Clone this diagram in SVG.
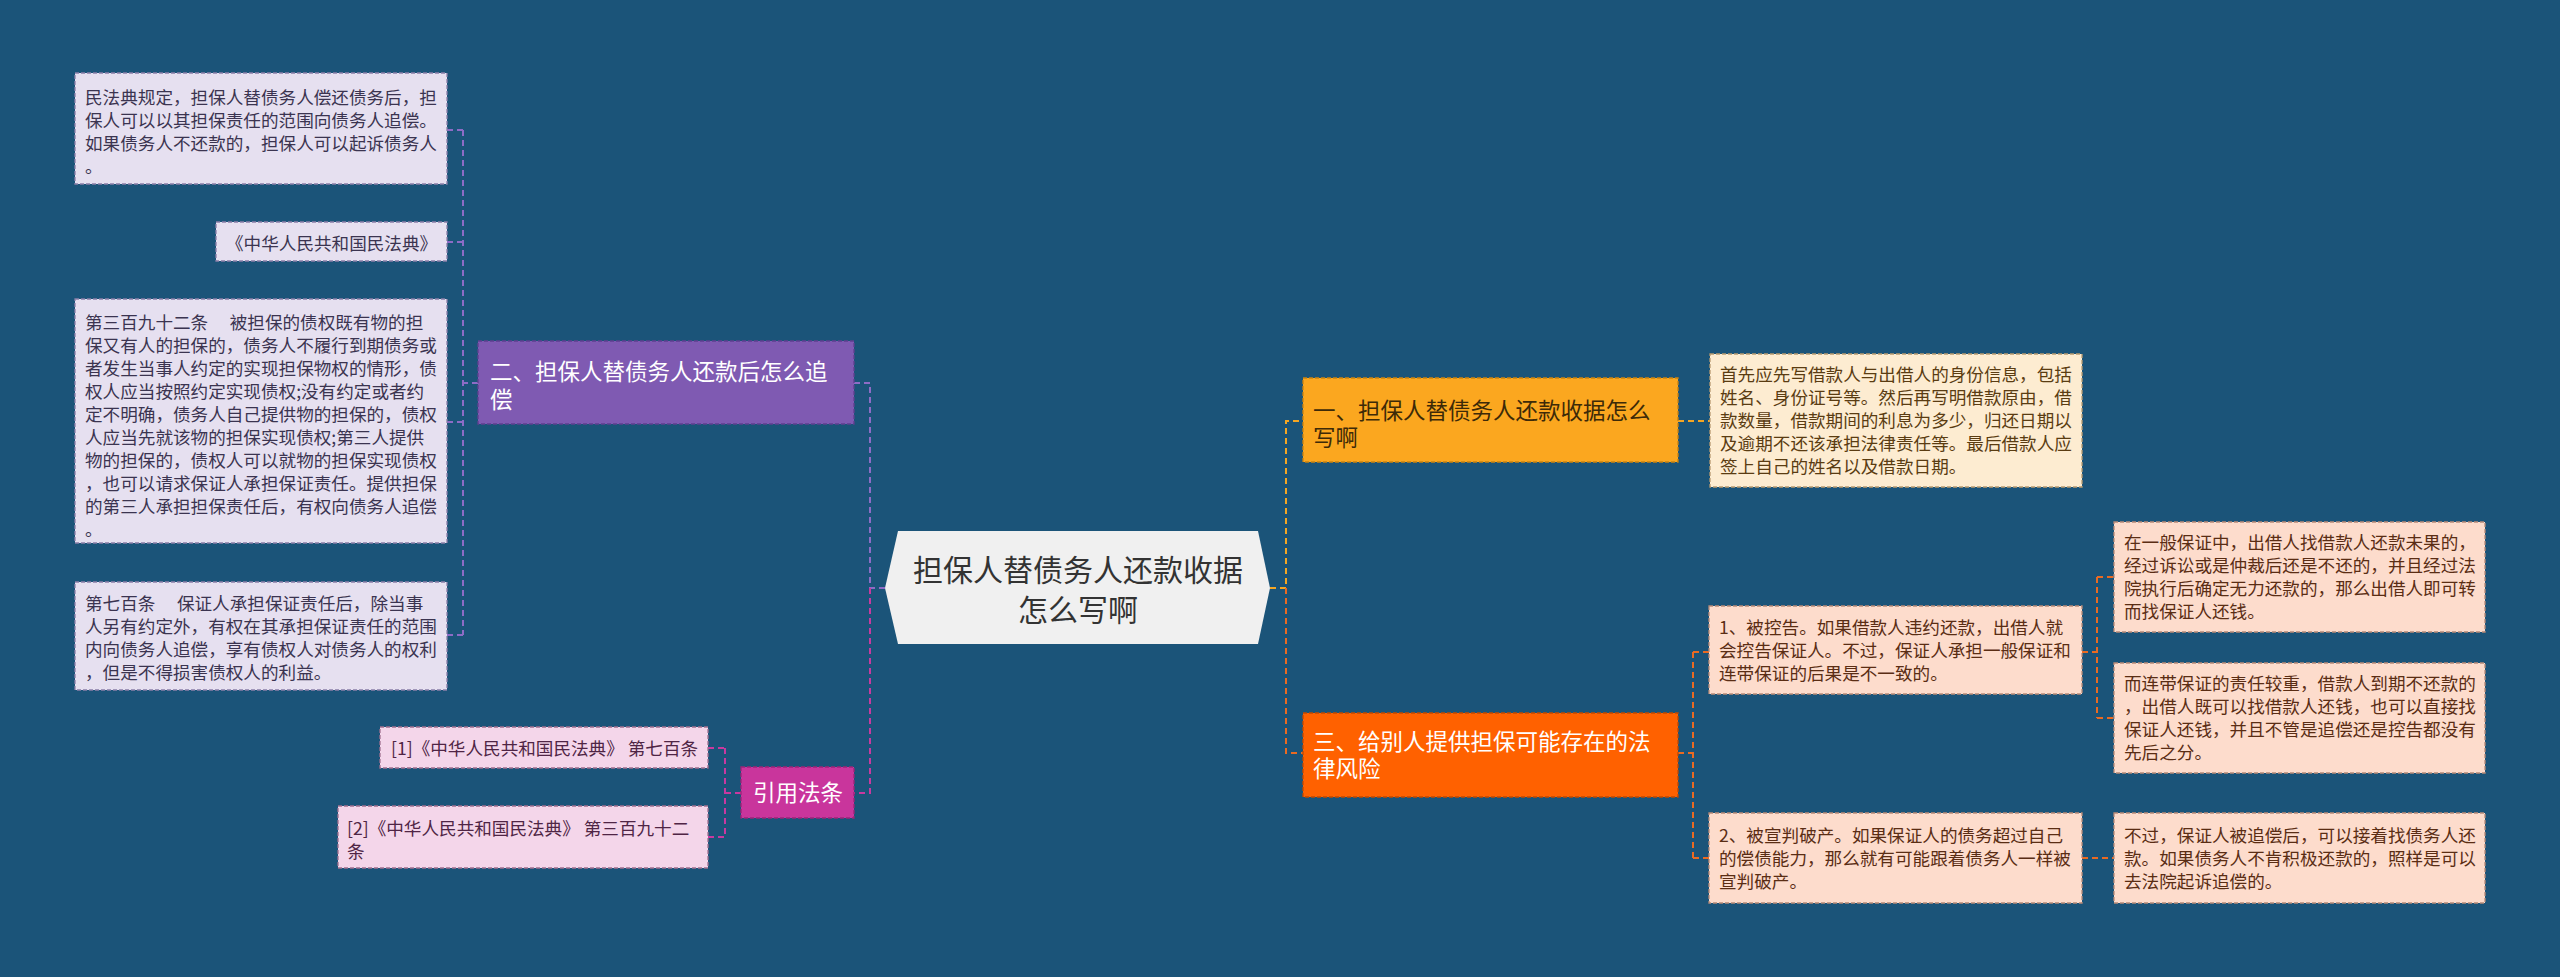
<svg xmlns="http://www.w3.org/2000/svg" width="2560" height="977" viewBox="0 0 2560 977">
<style>
text{font-family:"Noto Sans CJK SC","Noto Sans",sans-serif;}
.s{font-size:17.6px;}
.m{font-size:22.5px;}
.c{stroke-width:2;fill:none;stroke-dasharray:6 4;}
.cp{stroke:#8d6cc6;}
.cm{stroke:#c8399f;}
.cy{stroke:#f5a623;}
.co{stroke:#ea6a22;}
.b{stroke-width:1.3;stroke-dasharray:4 2;}
</style>
<rect width="2560" height="977" fill="#1b5479"/>
<g id="connectors">
<path class="c cp" d="M885 588H870V383H854M478 383H463M463 130V635M447 130H463M447 242H463M447 422H463M447 635H463"/>
<path class="c cm" d="M870 588V793H854M741 793H725M725 748V837M708 748H725M708 837H725"/>
<path class="c cy" d="M1270 588H1286V421H1303M1678 421H1710"/>
<path class="c co" d="M1286 588V753H1303M1678 753H1693M1693 652V858M1693 652H1709M1693 858H1709M2082 652H2097M2097 577V718M2097 577H2114M2097 718H2114M2082 858H2114"/>
</g>
<g id="center">
<polygon points="885,588 898,531 1258,531 1270,588 1258,644 898,644" fill="#f0f0f0"/>
<text x="1078" y="581" font-size="30" fill="#333" text-anchor="middle">担保人替债务人还款收据</text>
<text x="1078" y="621" font-size="30" fill="#333" text-anchor="middle">怎么写啊</text>
</g>
<g id="n2">
<rect class="b" x="478" y="341" width="376" height="83" fill="#7f5ab2" stroke="#5f3f90"/>
<text class="m" fill="#fff"><tspan x="490" y="379.5">二、担保人替债务人还款后怎么追</tspan><tspan x="490" y="407.5">偿</tspan></text>
</g>
<g id="n2a">
<rect class="b" x="75" y="73" width="372" height="111" fill="#e6e0f0" stroke="#8a7fa8"/>
<text class="s" fill="#3b3450"><tspan x="85" y="103.5">民法典规定，担保人替债务人偿还债务后，担</tspan><tspan x="85" y="126.5">保人可以以其担保责任的范围向债务人追偿。</tspan><tspan x="85" y="149.5">如果债务人不还款的，担保人可以起诉债务人</tspan><tspan x="85" y="172.5">。</tspan></text>
</g>
<g id="n2b">
<rect class="b" x="216" y="222" width="231" height="39" fill="#e6e0f0" stroke="#8a7fa8"/>
<text class="s" fill="#3b3450" x="226" y="249.5">《中华人民共和国民法典》</text>
</g>
<g id="n2c">
<rect class="b" x="75" y="299" width="372" height="244" fill="#e6e0f0" stroke="#8a7fa8"/>
<text class="s" fill="#3b3450"><tspan x="85" y="328.5">第三百九十二条　 被担保的债权既有物的担</tspan><tspan x="85" y="351.6">保又有人的担保的，债务人不履行到期债务或</tspan><tspan x="85" y="374.7">者发生当事人约定的实现担保物权的情形，债</tspan><tspan x="85" y="397.8">权人应当按照约定实现债权;没有约定或者约</tspan><tspan x="85" y="420.9">定不明确，债务人自己提供物的担保的，债权</tspan><tspan x="85" y="444">人应当先就该物的担保实现债权;第三人提供</tspan><tspan x="85" y="467.1">物的担保的，债权人可以就物的担保实现债权</tspan><tspan x="85" y="490.2">，也可以请求保证人承担保证责任。提供担保</tspan><tspan x="85" y="513.3">的第三人承担担保责任后，有权向债务人追偿</tspan><tspan x="85" y="536.4">。</tspan></text>
</g>
<g id="n2d">
<rect class="b" x="75" y="582" width="372" height="108" fill="#e6e0f0" stroke="#8a7fa8"/>
<text class="s" fill="#3b3450"><tspan x="85" y="609.5">第七百条　 保证人承担保证责任后，除当事</tspan><tspan x="85" y="632.5">人另有约定外，有权在其承担保证责任的范围</tspan><tspan x="85" y="655.5">内向债务人追偿，享有债权人对债务人的权利</tspan><tspan x="85" y="678.5">，但是不得损害债权人的利益。</tspan></text>
</g>
<g id="n4">
<rect class="b" x="741" y="767" width="113" height="51" fill="#c9359c" stroke="#9c2478"/>
<text class="m" fill="#fff" x="753" y="801">引用法条</text>
</g>
<g id="n4a">
<rect class="b" x="380" y="727" width="328" height="41" fill="#f4d6ea" stroke="#a07090"/>
<text class="s" fill="#4f2545" x="391" y="754.5">[1]《中华人民共和国民法典》 第七百条</text>
</g>
<g id="n4b">
<rect class="b" x="338" y="806" width="370" height="62" fill="#f4d6ea" stroke="#a07090"/>
<text class="s" fill="#4f2545"><tspan x="347" y="834.5">[2]《中华人民共和国民法典》 第三百九十二</tspan><tspan x="347" y="857.5">条</tspan></text>
</g>
<g id="n1">
<rect class="b" x="1303" y="378" width="375" height="84" fill="#fba71f" stroke="#c98210"/>
<text class="m" fill="#3d2a08"><tspan x="1313" y="418.5">一、担保人替债务人还款收据怎么</tspan><tspan x="1313" y="446">写啊</tspan></text>
</g>
<g id="n1a">
<rect class="b" x="1710" y="354" width="372" height="133" fill="#fdecd1" stroke="#b89a70"/>
<text class="s" fill="#5a3c12"><tspan x="1720" y="381">首先应先写借款人与出借人的身份信息，包括</tspan><tspan x="1720" y="404">姓名、身份证号等。然后再写明借款原由，借</tspan><tspan x="1720" y="427">款数量，借款期间的利息为多少，归还日期以</tspan><tspan x="1720" y="450">及逾期不还该承担法律责任等。最后借款人应</tspan><tspan x="1720" y="473">签上自己的姓名以及借款日期。</tspan></text>
</g>
<g id="n3">
<rect class="b" x="1303" y="713" width="375" height="84" fill="#ff6100" stroke="#c04800"/>
<text class="m" fill="#fff"><tspan x="1313" y="749.5">三、给别人提供担保可能存在的法</tspan><tspan x="1313" y="777">律风险</tspan></text>
</g>
<g id="n3a">
<rect class="b" x="1709" y="606" width="373" height="88" fill="#fddccc" stroke="#b88a78"/>
<text class="s" fill="#5a2d14"><tspan x="1719" y="633.5">1、被控告。如果借款人违约还款，出借人就</tspan><tspan x="1719" y="656.5">会控告保证人。不过，保证人承担一般保证和</tspan><tspan x="1719" y="679.5">连带保证的后果是不一致的。</tspan></text>
</g>
<g id="n3a1">
<rect class="b" x="2114" y="522" width="371" height="110" fill="#fddccc" stroke="#b88a78"/>
<text class="s" fill="#5a2d14"><tspan x="2124" y="549">在一般保证中，出借人找借款人还款未果的，</tspan><tspan x="2124" y="572">经过诉讼或是仲裁后还是不还的，并且经过法</tspan><tspan x="2124" y="595">院执行后确定无力还款的，那么出借人即可转</tspan><tspan x="2124" y="618">而找保证人还钱。</tspan></text>
</g>
<g id="n3a2">
<rect class="b" x="2114" y="663" width="371" height="110" fill="#fddccc" stroke="#b88a78"/>
<text class="s" fill="#5a2d14"><tspan x="2124" y="690">而连带保证的责任较重，借款人到期不还款的</tspan><tspan x="2124" y="713">，出借人既可以找借款人还钱，也可以直接找</tspan><tspan x="2124" y="736">保证人还钱，并且不管是追偿还是控告都没有</tspan><tspan x="2124" y="759">先后之分。</tspan></text>
</g>
<g id="n3b">
<rect class="b" x="1709" y="813" width="373" height="90" fill="#fddccc" stroke="#b88a78"/>
<text class="s" fill="#5a2d14"><tspan x="1719" y="841.5">2、被宣判破产。如果保证人的债务超过自己</tspan><tspan x="1719" y="864.5">的偿债能力，那么就有可能跟着债务人一样被</tspan><tspan x="1719" y="887.5">宣判破产。</tspan></text>
</g>
<g id="n3b1">
<rect class="b" x="2114" y="813" width="371" height="90" fill="#fddccc" stroke="#b88a78"/>
<text class="s" fill="#5a2d14"><tspan x="2124" y="841.5">不过，保证人被追偿后，可以接着找债务人还</tspan><tspan x="2124" y="864.5">款。如果债务人不肯积极还款的，照样是可以</tspan><tspan x="2124" y="887.5">去法院起诉追偿的。</tspan></text>
</g>
</svg>
